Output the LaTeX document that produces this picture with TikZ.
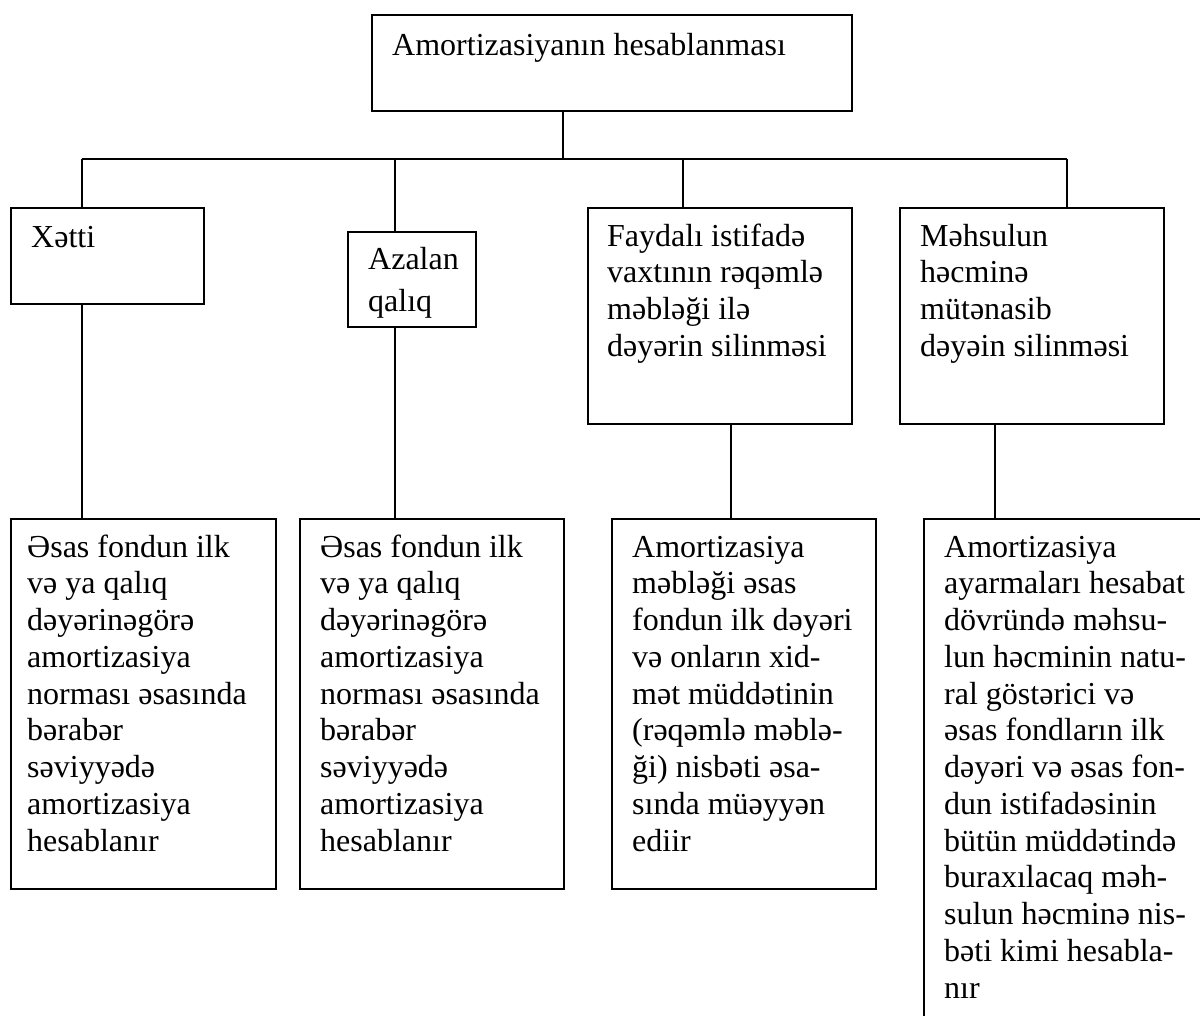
\documentclass[tikz,border=0pt]{standalone}
\usepackage{fontspec}
\setmainfont{Liberation Serif}
\setlength{\lineskiplimit}{-20pt}
% strut that fixes the height of the first text line
\newcommand\lnlead{\rule{0pt}{30pt}}
\begin{document}
\begin{tikzpicture}[x=1pt,y=-1pt,
  frame/.style={draw, line width=1.8pt, anchor=north west, inner sep=0pt},
  txt/.style={anchor=north west, inner sep=0pt, align=left,
    font=\fontsize{32}{36.75}\selectfont},
  link/.style={line width=1.8pt}]
\useasboundingbox (0,0) rectangle (1200,1016);
\clip (0,0) rectangle (1200,1016);

% boxes
\node[frame, minimum width=480pt, minimum height=96pt]  (top)     at (371,14)  {};
\node[frame, minimum width=193pt, minimum height=96pt]  (xetti)   at (10,207)  {};
\node[frame, minimum width=128pt, minimum height=95pt]  (azalan)  at (347,231) {};
\node[frame, minimum width=264pt, minimum height=216pt] (faydali) at (587,207) {};
\node[frame, minimum width=264pt, minimum height=216pt] (mehsul)  at (899,207) {};
\node[frame, minimum width=265pt, minimum height=370pt] (b1) at (10,518)  {};
\node[frame, minimum width=264pt, minimum height=370pt] (b2) at (299,518) {};
\node[frame, minimum width=264pt, minimum height=370pt] (b3) at (611,518) {};
\node[frame, minimum width=300pt, minimum height=530pt] (b4) at (923,518) {};

% texts
\node[txt] (topT) at (392,25) {\lnlead Amortizasiyanın hesablanması};
\node[txt] (xettiT) at (31,217) {\lnlead Xətti};
\node[txt, font=\fontsize{32}{42.5}\selectfont] (azalanT) at (368,239) {\lnlead Azalan\\qalıq};
\node[txt] (faydaliT) at (607,216) {\lnlead Faydalı istifadə\\vaxtının rəqəmlə\\məbləği ilə\\dəyərin silinməsi};
\node[txt] (mehsulT) at (920,216) {\lnlead Məhsulun\\həcminə\\mütənasib\\dəyəin silinməsi};
\node[txt] (b1T) at (27,527) {\lnlead Əsas fondun ilk\\və ya qalıq\\dəyərinəgörə\\amortizasiya\\norması əsasında\\bərabər\\səviyyədə\\amortizasiya\\hesablanır};
\node[txt] (b2T) at (320,527) {\lnlead Əsas fondun ilk\\və ya qalıq\\dəyərinəgörə\\amortizasiya\\norması əsasında\\bərabər\\səviyyədə\\amortizasiya\\hesablanır};
\node[txt] (b3T) at (632,527) {\lnlead Amortizasiya\\məbləği əsas\\fondun ilk dəyəri\\və onların xid-\\mət müddətinin\\(rəqəmlə məblə-\\ği) nisbəti əsa-\\sında müəyyən\\ediir};
\node[txt] (b4T) at (944,527) {\lnlead Amortizasiya\\ayarmaları hesabat\\dövründə məhsu-\\lun həcminin natu-\\ral göstərici və\\əsas fondların ilk\\dəyəri və əsas fon-\\dun istifadəsinin\\bütün müddətində\\buraxılacaq məh-\\sulun həcminə nis-\\bəti kimi hesabla-\\nır};

% bus line and branch points
\coordinate (j0) at (563,159);
\coordinate (j1) at (82,159);
\coordinate (j2) at (395,159);
\coordinate (j3) at (683,159);
\coordinate (j4) at (1067,159);
\coordinate (k3) at (731,470);
\coordinate (k4) at (995,470);

\draw[link] (j0 |- top.south) -- (j0);
\draw[link] (j1) -- (j4);
\draw[link] (j1) -- (j1 |- xetti.north);
\draw[link] (j2) -- (j2 |- azalan.north);
\draw[link] (j3) -- (j3 |- faydali.north);
\draw[link] (j4) -- (j4 |- mehsul.north);

\draw[link] (j1 |- xetti.south) -- (j1 |- b1.north);
\draw[link] (j2 |- azalan.south) -- (j2 |- b2.north);
\draw[link] (k3 |- faydali.south) -- (k3 |- b3.north);
\draw[link] (k4 |- mehsul.south) -- (k4 |- b4.north);
\end{tikzpicture}
\end{document}
